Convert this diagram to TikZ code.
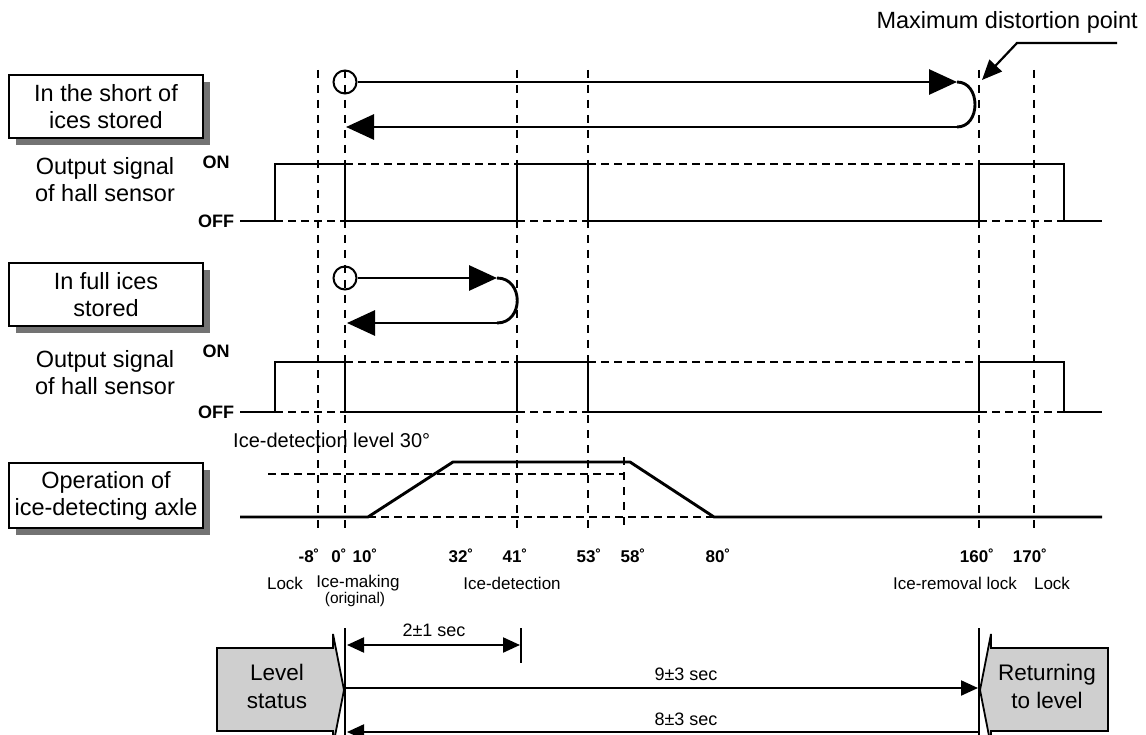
\documentclass[tikz,border=0pt]{standalone}
\usepackage{fontspec}
\setmainfont{Liberation Sans}
\usetikzlibrary{arrows.meta}
\begin{document}
\begin{tikzpicture}[x=1pt,y=-1pt,
  sig/.style={line width=2.9pt},
  dsh/.style={line width=1.7pt, dash pattern=on 8pt off 5pt},
  vdsh/.style={line width=1.7pt, dash pattern=on 8pt off 7pt},
  lbl/.style={font=\fontsize{23.5}{27}\selectfont, align=center, inner sep=0pt},
  lblbox/.style={draw, line width=2pt, fill=white, minimum width=194pt, minimum height=63pt,
     align=center, inner sep=0pt, font=\fontsize{23.5}{27}\selectfont},
  shadowfill/.style={fill=black!55},
  circ/.style={circle, draw, line width=2pt, minimum size=23pt, inner sep=0pt},
  big/.style={-{Triangle[length=28pt,width=25pt]}},
  sm/.style={-{Triangle[length=17pt,width=15pt]}},
  onoff/.style={font=\fontsize{18}{20}\selectfont\bfseries, inner sep=0pt},
  deg/.style={font=\fontsize{17}{19}\selectfont\bfseries, inner sep=0pt},
  small/.style={font=\fontsize{17}{18}\selectfont, inner sep=0pt, align=center},
  tiny/.style={font=\fontsize{15.5}{16}\selectfont, inner sep=0pt, align=center},
  measlbl/.style={font=\fontsize{18}{19}\selectfont, inner sep=0pt},
  pentshape/.style={draw, line width=1.8pt, fill=gray!38},
  shapetext/.style={font=\fontsize{22.5}{28}\selectfont, align=center, inner sep=0pt},
  meas/.style={line width=2.2pt},
]
\useasboundingbox (0,0) rectangle (1146,735);
\begin{scope}
\clip (0,0) rectangle (1146,735);

% ---------- vertical guide lines ----------
\foreach \x in {318,345,517,588,979,1034} \draw[vdsh] (\x,70) -- (\x,528);
\draw[vdsh] (624,457) -- (624,528);

% ---------- left label boxes (with shadows) ----------
\fill[shadowfill] (16,82) rectangle (210,145);
\node[lblbox] (box1) at (106,106.5) {In the short of\\ices stored};
\node[lbl] (hall1) at (105,180) {Output signal\\of hall sensor};
\fill[shadowfill] (16,270) rectangle (210,333);
\node[lblbox] (box2) at (106,294.5) {In full ices\\stored};
\node[lbl] (hall2) at (105,373) {Output signal\\of hall sensor};
\fill[shadowfill] (16,470) rectangle (210,535);
\node[lblbox, minimum height=65pt] (box3) at (106,495.5) {Operation of\\ice-detecting axle};

% ---------- row 1 : short of ices ----------
\node[circ] (c1) at (345,82) {};
\coordinate (t1) at (957,82);
\coordinate (b1) at (957,127);
\coordinate (e1) at (346,127);
\draw[sig,big] (c1.east) -- (t1);
\draw[sig] (t1) .. controls (981,82) and (981,127) .. (b1);
\draw[sig,big] (b1) -- (e1);

% hall sensor 1
\node[onoff] (on1) at (216,162) {ON};
\node[onoff] (off1) at (216,221) {OFF};
\draw[dsh] (345,164) -- (517,164) (588,164) -- (979,164)
           (275,221) -- (345,221) (517,221) -- (588,221) (979,221) -- (1064,221);
\draw[sig] (240,221) -- (275,221) -- (275,164) -- (345,164) -- (345,221) -- (517,221)
  -- (517,164) -- (588,164) -- (588,221) -- (979,221) -- (979,164) -- (1064,164)
  -- (1064,221) -- (1102,221);

% ---------- row 2 : full ices ----------
\node[circ] (c2) at (345,278) {};
\coordinate (t2) at (497,278);
\coordinate (b2) at (497,323);
\coordinate (e2) at (347,323);
\draw[sig,big] (c2.east) -- (t2);
\draw[sig] (t2) .. controls (524,278) and (524,323) .. (b2);
\draw[sig,big] (b2) -- (e2);

% hall sensor 2
\node[onoff] (on2) at (216,351) {ON};
\node[onoff] (off2) at (216,412) {OFF};
\draw[dsh] (345,362) -- (517,362) (588,362) -- (979,362)
           (275,412) -- (345,412) (517,412) -- (588,412) (979,412) -- (1064,412);
\draw[sig] (240,412) -- (275,412) -- (275,362) -- (345,362) -- (345,412) -- (517,412)
  -- (517,362) -- (588,362) -- (588,412) -- (979,412) -- (979,362) -- (1064,362)
  -- (1064,412) -- (1102,412);

% ---------- axle ----------
\node[font=\fontsize{20}{22}\selectfont, inner sep=0pt, anchor=west] (lvl) at (233,440) {Ice-detection level 30°};
\draw[dsh] (268,474) -- (624,474) (368,517) -- (714,517);
\draw[sig] (240,517) -- (368,517) -- (453,462) -- (630,462) -- (714,517) -- (1102,517);

% degree labels
\node[deg] (dm8) at (309,556) {-8˚};
\node[deg] (d0) at (339,556) {0˚};
\node[deg] (d10) at (365,556) {10˚};
\node[deg] (d32) at (461,556) {32˚};
\node[deg] (d41) at (515,556) {41˚};
\node[deg] (d53) at (589,556) {53˚};
\node[deg] (d58) at (633,556) {58˚};
\node[deg] (d80) at (718,556) {80˚};
\node[deg] (d160) at (977,556) {160˚};
\node[deg] (d170) at (1030,556) {170˚};

% state labels
\node[small] (lock1) at (285,583) {Lock};
\node[small] (mk) at (358,583) {Ice-making};
\node[tiny] (orig) at (355,599) {(original)};
\node[small] (det) at (512,583) {Ice-detection};
\node[small] (rem) at (955,583) {Ice-removal lock};
\node[small] (lock2) at (1052,583) {Lock};

% ---------- bottom timing ----------
\filldraw[pentshape] (217,648) -- (333,648) -- (333,634) -- (344,690) -- (333,746) -- (333,731) -- (217,731) -- cycle;
\node[shapetext] (lvstext) at (277,686) {Level\\status};
\filldraw[pentshape] (1108,648) -- (991,648) -- (991,634) -- (980,690) -- (991,746) -- (991,731) -- (1108,731) -- cycle;
\node[shapetext] (rettext) at (1047,686) {Returning\\to level};

\coordinate (v0a) at (345,628); \coordinate (v0b) at (345,740);
\coordinate (v1a) at (979,628); \coordinate (v1b) at (979,740);
\coordinate (v2a) at (521,628); \coordinate (v2b) at (521,663);
\draw[line width=2.6pt] (v0a) -- (v0b);
\draw[line width=2.6pt] (v1a) -- (v1b);
\draw[line width=2.6pt] (v2a) -- (v2b);

\coordinate (s2l) at (347,645); \coordinate (s2r) at (520,645);
\draw[meas, {Triangle[length=17pt,width=15pt]}-{Triangle[length=17pt,width=15pt]}] (s2l) -- (s2r);
\node[measlbl] (t21) at (434,630) {2±1 sec};

\coordinate (s9l) at (346,688); \coordinate (s9r) at (978,688);
\draw[meas, sm] (s9l) -- (s9r);
\node[measlbl] (t93) at (686,674) {9±3 sec};

\coordinate (s8r) at (978,732); \coordinate (s8l) at (347,732);
\draw[meas, sm] (s8r) -- (s8l);
\node[measlbl] (t83) at (686,719) {8±3 sec};

% ---------- maximum distortion point ----------
\node[lbl, anchor=east] (mdp) at (1138,22) {Maximum distortion point};
\coordinate (m1) at (1117,43);
\coordinate (m2) at (1017,43);
\coordinate (m3) at (982,80);
\draw[line width=2.2pt, -{Triangle[length=20pt,width=17pt]}] (m1) -- (m2) -- (m3);
\end{scope}
\end{tikzpicture}
\end{document}
